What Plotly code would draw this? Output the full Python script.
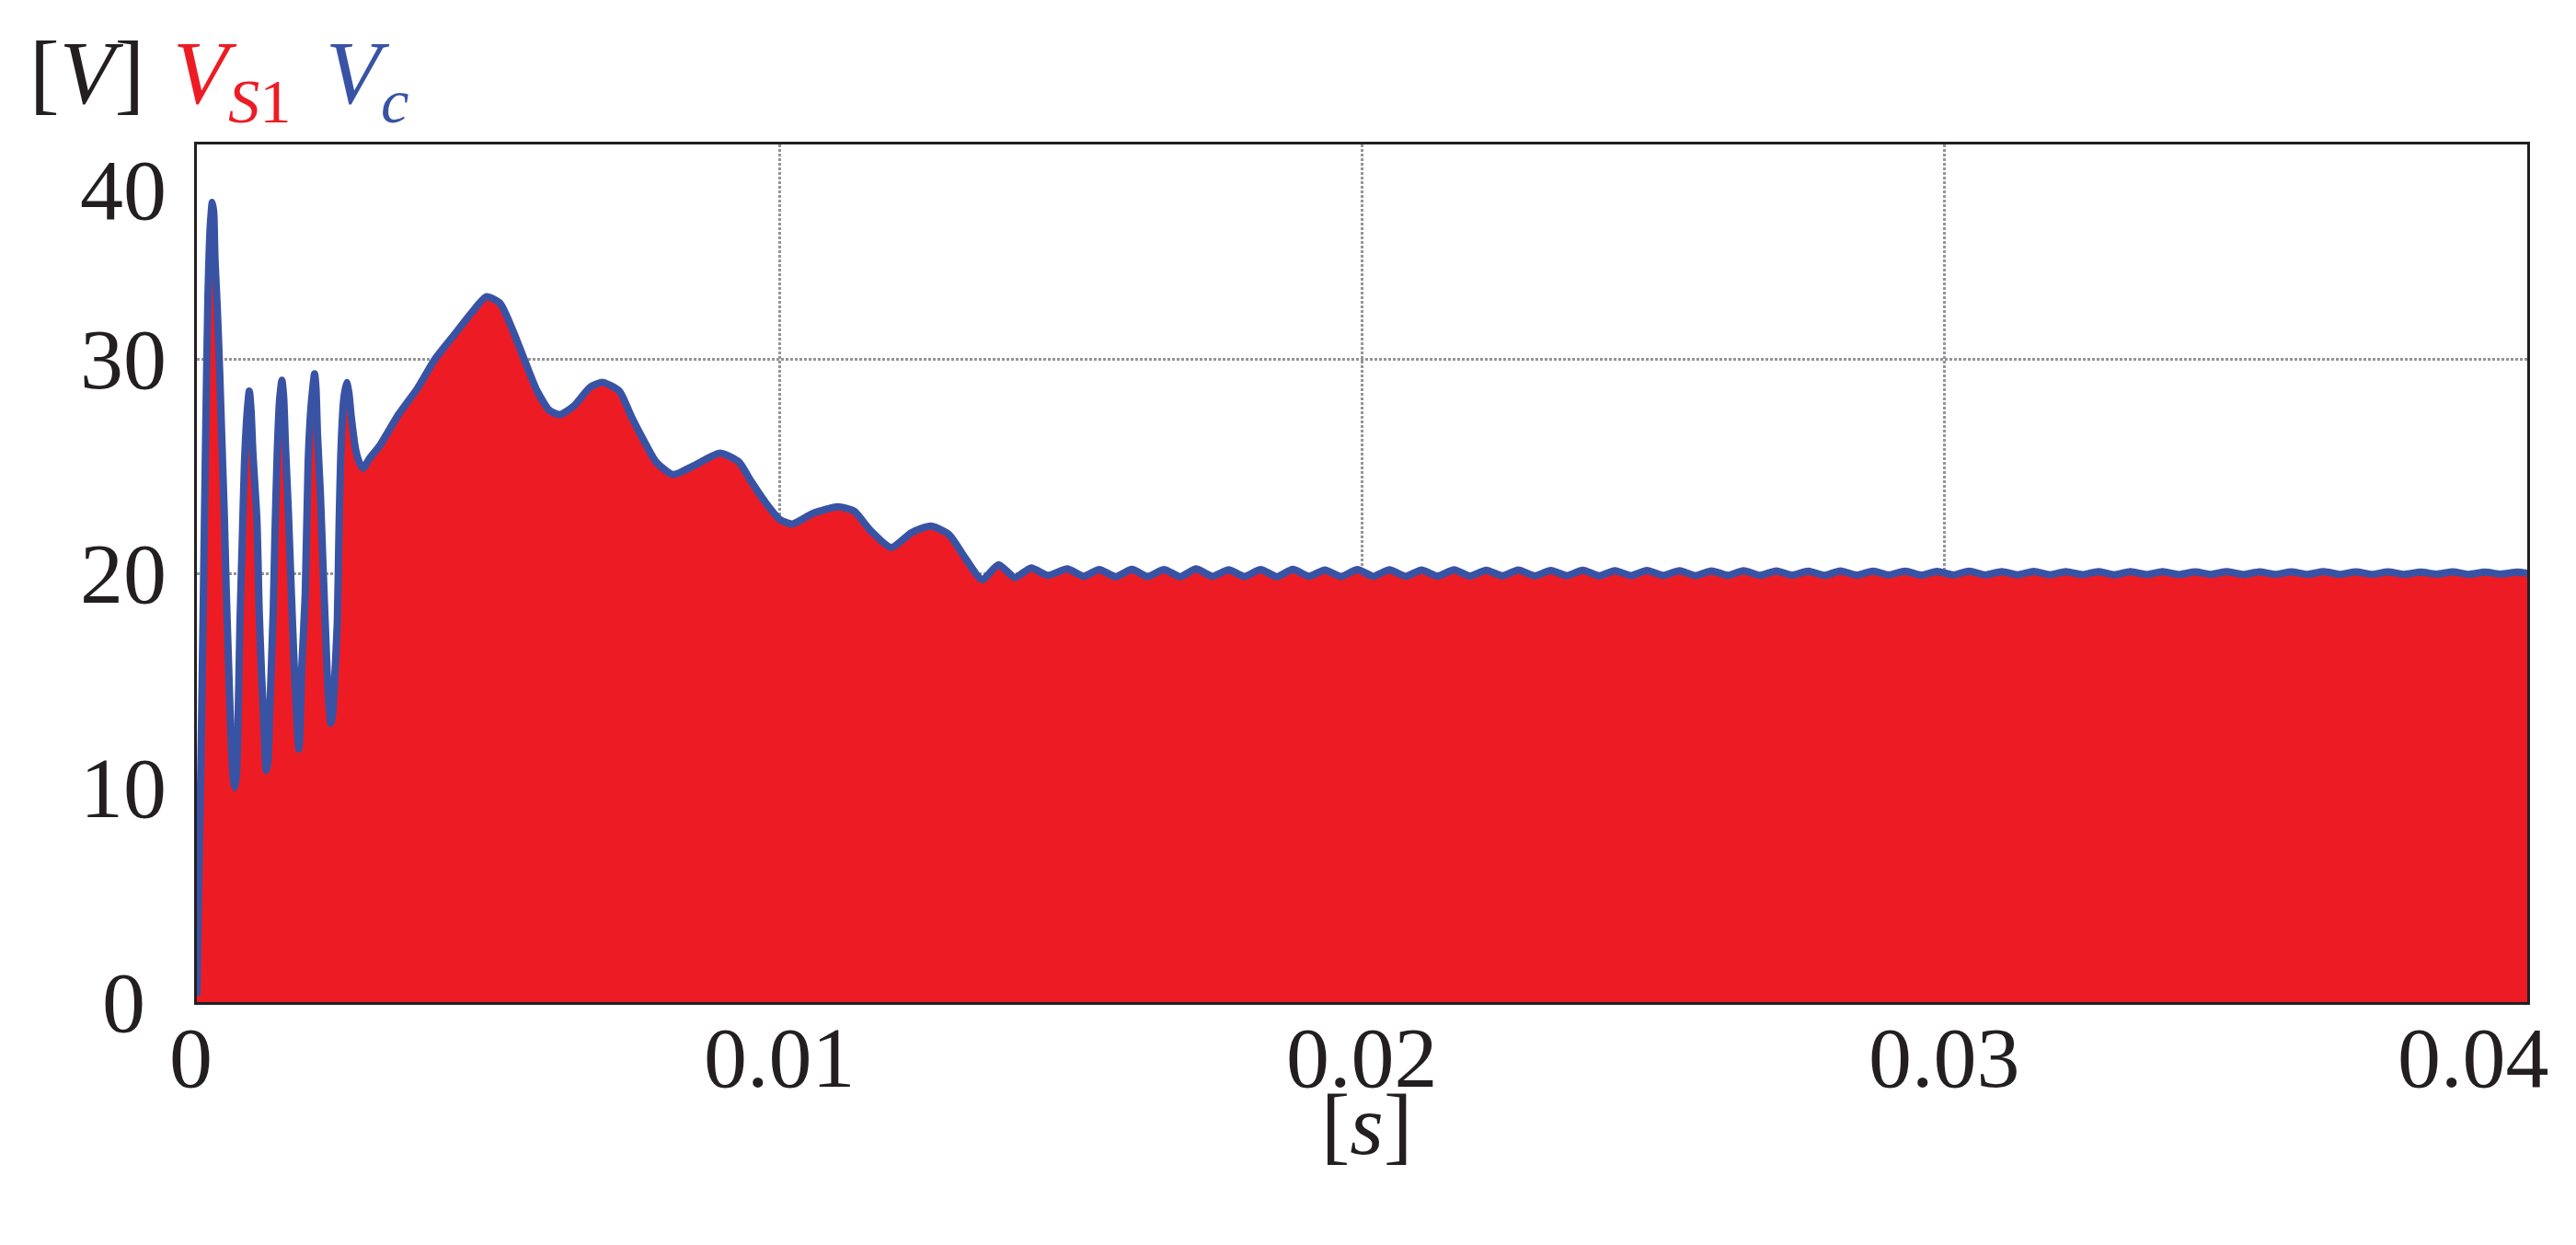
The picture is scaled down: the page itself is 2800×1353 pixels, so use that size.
import plotly.graph_objects as go

# ---------------- data ----------------
# capacitor voltage Vc envelope, time in ms
t_ms = [
    0.0, 0.026, 0.068, 0.11, 0.153, 0.19, 0.23, 0.265, 0.29, 0.31, 0.35, 0.39, 0.43, 0.47,
    0.505, 0.547, 0.584, 0.625, 0.65, 0.68, 0.70, 0.74, 0.78, 0.815, 0.86, 0.90, 0.93, 0.96,
    1.03, 1.07, 1.11, 1.15, 1.19, 1.22, 1.25, 1.31, 1.34, 1.38, 1.42, 1.46, 1.49, 1.52, 1.57,
    1.62, 1.66, 1.70, 1.75, 1.77, 1.80, 1.86, 1.91, 1.96, 2.02, 2.045, 2.07, 2.12, 2.17, 2.21,
    2.25, 2.30, 2.33, 2.36, 2.41, 2.44, 2.47, 2.52, 2.57, 2.61, 2.65, 2.73, 2.80, 2.86, 2.95,
    3.15, 3.46, 3.78, 4.09, 4.41, 4.73, 4.97, 5.2, 5.42, 5.63, 5.84, 6.05, 6.23, 6.47, 6.76,
    6.97, 7.25, 7.46, 7.67, 7.88, 8.17, 8.52, 8.98, 9.3, 9.51, 9.76, 10.01, 10.22, 10.58, 11.0,
    11.28, 11.56, 11.92, 12.27, 12.6, 12.91, 13.19, 13.48, 13.76, 14.04, 14.32, 14.6,
    14.94, 15.22, 15.49, 15.77, 16.05, 16.32, 16.60, 16.88, 17.15, 17.43, 17.71, 17.98,
    18.26, 18.54, 18.81, 19.09, 19.36, 19.64, 19.92, 20.19, 20.47, 20.75, 21.02, 21.30,
    21.58, 21.85, 22.13, 22.41, 22.68, 22.96, 23.24, 23.51, 23.79, 24.07, 24.34, 24.62,
    24.89, 25.17, 25.45, 25.72, 26.00, 26.28, 26.55, 26.83, 27.11, 27.38, 27.66, 27.94,
    28.21, 28.49, 28.77, 29.04, 29.32, 29.60, 29.87, 30.15, 30.42, 30.70, 30.98, 31.25,
    31.53, 31.81, 32.08, 32.36, 32.64, 32.91, 33.19, 33.47, 33.74, 34.02, 34.30, 34.57,
    34.85, 35.13, 35.40, 35.68, 35.95, 36.23, 36.51, 36.78, 37.06, 37.34, 37.61, 37.89,
    38.17, 38.45, 38.72, 39.00, 39.27, 39.55, 39.83, 40.00,
]
vc = [
    0.3, 4.4, 10.9, 18.7, 26.8, 32.9, 36.2, 37.3, 36.8, 34.7, 32.4, 29.5, 26.1, 22.8,
    19.1, 15.5, 12.5, 10.4, 10.0, 10.6, 12.2, 17.7, 21.6, 25.0, 27.4, 28.5, 27.6, 25.7,
    22.5, 18.2, 15.3, 13.0, 10.8, 11.2, 13.5, 18.2, 21.8, 25.7, 28.1, 29.0, 28.2, 26.0, 22.9,
    19.2, 16.4, 14.0, 11.8, 12.6, 15.6, 19.0, 25.2, 27.8, 29.3, 28.6, 26.5, 23.7, 20.0, 17.2,
    14.6, 13.0, 13.4, 14.8, 17.7, 22.1, 25.5, 28.1, 28.9, 28.4, 27.3, 25.7, 25.1, 24.9, 25.3,
    26.0, 27.4, 28.6, 30.0, 31.1, 32.2, 32.9, 32.6, 31.35, 29.9, 28.5, 27.6, 27.4, 27.8, 28.7,
    28.9, 28.5, 27.3, 26.2, 25.2, 24.6, 25.0, 25.6, 25.2, 24.3, 23.3, 22.5, 22.3, 22.8, 23.1,
    22.9, 22.0, 21.2, 21.9, 22.2, 21.8, 20.7, 19.7, 20.4, 19.8, 20.25, 19.9,
    20.20, 19.86, 20.17, 19.84, 20.18, 19.85, 20.17, 19.84, 20.20, 19.86, 20.16, 19.85,
    20.17, 19.84, 20.18, 19.86, 20.15, 19.85, 20.17, 19.86, 20.16, 19.86, 20.15, 19.87,
    20.16, 19.87, 20.14, 19.88, 20.15, 19.88, 20.13, 19.89, 20.14, 19.88, 20.12, 19.89,
    20.13, 19.90, 20.12, 19.89, 20.11, 19.90, 20.12, 19.90, 20.11, 19.91, 20.10, 19.90,
    20.11, 19.91, 20.10, 19.92, 20.10, 19.91, 20.09, 19.92, 20.10, 19.92, 20.08, 19.93,
    20.09, 19.93, 20.07, 19.94, 20.08, 19.93, 20.07, 19.94, 20.07, 19.94, 20.06, 19.95,
    20.07, 19.94, 20.06, 19.95, 20.06, 19.95, 20.07, 19.95, 20.06, 19.95, 20.06, 19.95,
    20.05, 19.96, 20.06, 19.95, 20.05, 19.96, 20.05, 20.00,
]
# switch voltage VS1: switches between 0 and Vc, drawn as its filled envelope
vs1_peak = list(vc)

x_ticks = [0, 0.01, 0.02, 0.03, 0.04]
x_ticktext = ["0", "0.01", "0.02", "0.03", "0.04"]
y_ticks = [0, 10, 20, 30, 40]
y_ticktext = ["0", "10", "20", "30", "40"]

t_s = [v / 1000.0 for v in t_ms]

RED = "#ED1C24"
BLUE = "#3953A4"
INK = "#231F20"
GRID = "#939598"
FONT = "Liberation Serif"
FS = 94

fig = go.Figure()
fig.add_trace(go.Scatter(
    x=t_s, y=vs1_peak, mode="lines",
    line=dict(width=0, color=RED, shape="spline", smoothing=0.6),
    fill="tozeroy", fillcolor=RED, showlegend=False, hoverinfo="skip"))
fig.add_trace(go.Scatter(
    x=t_s, y=vc, mode="lines",
    line=dict(width=8, color=BLUE, shape="spline", smoothing=0.6),
    showlegend=False, hoverinfo="skip"))

W, H = 2800, 1353
L, R, T, B = 214, 53, 157, 264
pw = W - L - R
ph = H - T - B

annotations = []
# y tick labels (centred column)
for v, txt in zip(y_ticks, y_ticktext):
    ys = -49 if v == 40 else 0
    annotations.append(dict(
        text=txt, xref="paper", yref="y", x=(134 - L) / pw, y=v,
        xanchor="center", yanchor="middle", yshift=ys, showarrow=False,
        font=dict(family=FONT, size=FS, color=INK), borderpad=0))
# x tick labels
for v, txt in zip(x_ticks, x_ticktext):
    xs = -59 if v == 0.04 else (-7 if v == 0 else 0)
    annotations.append(dict(
        text=txt, xref="x", yref="paper", x=v, y=0,
        xanchor="center", yanchor="middle", xshift=xs, yshift=-60, showarrow=False,
        font=dict(family=FONT, size=FS, color=INK), borderpad=0))
# axis titles
annotations.append(dict(
    text="[<i>s</i>]", xref="paper", yref="paper", x=0.5, y=0,
    xanchor="center", yanchor="middle", xshift=5, yshift=-133, showarrow=False,
    font=dict(family=FONT, size=FS, color=INK), borderpad=0))
title_parts = [
    ("[<i>V</i>]", INK, 31),
    ("<i>V</i><sub><i>S</i>1</sub>", RED, 187),
    ("<i>V</i><sub><i>c</i></sub>", BLUE, 353),
]
for txt, col, px in title_parts:
    annotations.append(dict(
        text=txt, xref="paper", yref="paper", x=(px - L) / pw, y=1,
        xanchor="left", yanchor="top", yshift=T - (108 - 0.891 * FS), showarrow=False,
        font=dict(family=FONT, size=FS + 4, color=col), borderpad=0))

fig.update_layout(
    width=W, height=H,
    margin=dict(l=L, r=R, t=T, b=B, pad=0),
    paper_bgcolor="white", plot_bgcolor="white",
    showlegend=False,
    annotations=annotations,
    xaxis=dict(
        range=[0, 0.04], tickvals=x_ticks, showticklabels=False, ticks="",
        showgrid=True, gridcolor=GRID, gridwidth=3, griddash="3px,2px",
        showline=True, mirror=True, linecolor=INK, linewidth=3, zeroline=False),
    yaxis=dict(
        range=[0, 40], tickvals=y_ticks, showticklabels=False, ticks="",
        showgrid=True, gridcolor=GRID, gridwidth=3, griddash="3px,2px",
        showline=True, mirror=True, linecolor=INK, linewidth=3, zeroline=False),
)

fig.write_html("out.html", config={"displayModeBar": False},
               post_script="document.body.style.margin='0';")
